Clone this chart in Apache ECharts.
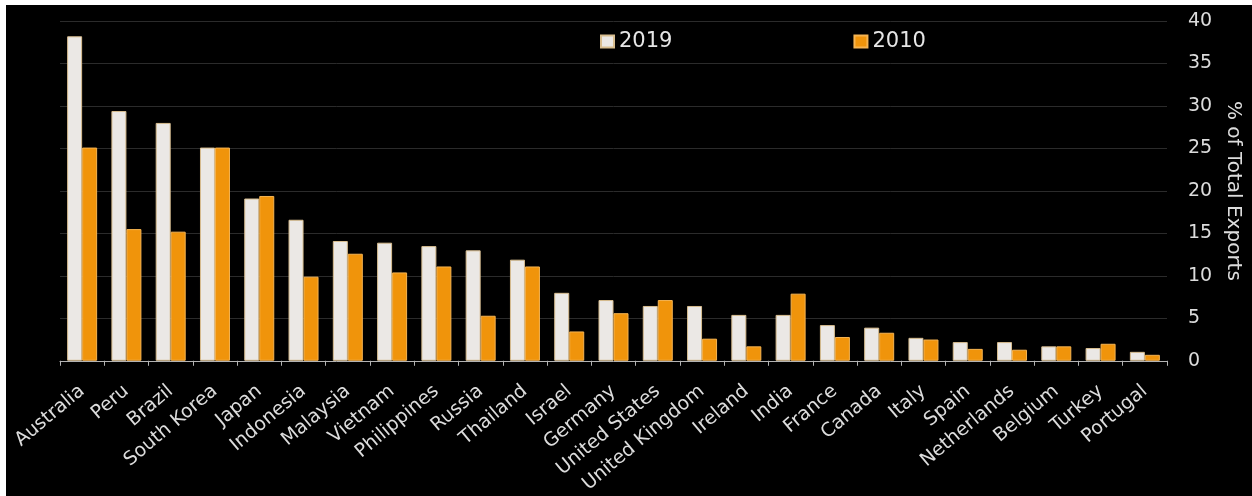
<!DOCTYPE html>
<html>
<head>
<meta charset="utf-8">
<script src="https://cdn.jsdelivr.net/npm/echarts@6/dist/echarts.min.js"></script>
<style>
html,body{margin:0;padding:0;background:#ffffff;}
#chart{position:absolute;left:6px;top:5px;width:1246px;height:491px;background:#000000;}
</style>
</head>
<body>
<div id="chart"></div>
<script>
const categories = ["Australia","Peru","Brazil","South Korea","Japan","Indonesia","Malaysia","Vietnam","Philippines","Russia","Thailand","Israel","Germany","United States","United Kingdom","Ireland","India","France","Canada","Italy","Spain","Netherlands","Belgium","Turkey","Portugal"];
const values2019 = [38.2,29.4,28.0,25.1,19.1,16.6,14.1,13.9,13.5,13.0,11.9,8.0,7.15,6.45,6.45,5.4,5.4,4.2,3.9,2.7,2.2,2.2,1.7,1.5,1.05];
const values2010 = [25.1,15.5,15.2,25.1,19.4,9.9,12.6,10.4,11.1,5.3,11.1,3.45,5.6,7.15,2.6,1.7,7.9,2.8,3.3,2.5,1.4,1.3,1.7,2.0,0.7];
const yTicks = [0,5,10,15,20,25,30,35,40];

const chart = echarts.init(document.getElementById('chart'));
const font = 'DejaVu Sans, Verdana, sans-serif';
chart.setOption({
  backgroundColor: '#000000',
  animation: false,
  legend: {
    left: 594, top: 26, padding: 0,
    itemWidth: 13, itemHeight: 12, itemGap: 181,
    icon: 'rect',
    textStyle: {color: '#e6e6e6', fontSize: 21, fontFamily: font},
    data: ['2019','2010']
  },
  grid: {left: 54, right: 85, top: 16, bottom: 135, containLabel: false},
  xAxis: {
    type: 'category',
    data: categories,
    axisLine: {show: true, lineStyle: {color: '#b3b3b3', width: 1}},
    axisTick: {show: true, length: 5, lineStyle: {color: '#b3b3b3'}},
    axisLabel: {rotate: 40, color: '#dcdcdc', fontSize: 19, fontFamily: font, margin: 28, interval: 0}
  },
  yAxis: {
    type: 'value',
    position: 'right',
    min: yTicks[0], max: yTicks[yTicks.length-1], interval: 5,
    name: '% of Total Exports',
    nameLocation: 'middle',
    nameRotate: -90,
    nameGap: 54,
    nameTextStyle: {color: '#dcdcdc', fontSize: 20, fontFamily: font},
    axisLine: {show: false},
    axisTick: {show: false},
    axisLabel: {color: '#dcdcdc', fontSize: 19, fontFamily: font, margin: 21},
    splitLine: {show: true, lineStyle: {color: '#2b2b2b', width: 1}}
  },
  series: [
    {name: '2019', type: 'bar', data: values2019, barWidth: 15, barGap: '0%',
     itemStyle: {color: '#ebe8e5', borderColor: '#d8bd8f', borderWidth: 1}},
    {name: '2010', type: 'bar', data: values2010, barWidth: 15, barGap: '0%',
     itemStyle: {color: '#f0940b', borderColor: '#f6b452', borderWidth: 1}}
  ]
});
</script>
</body>
</html>
